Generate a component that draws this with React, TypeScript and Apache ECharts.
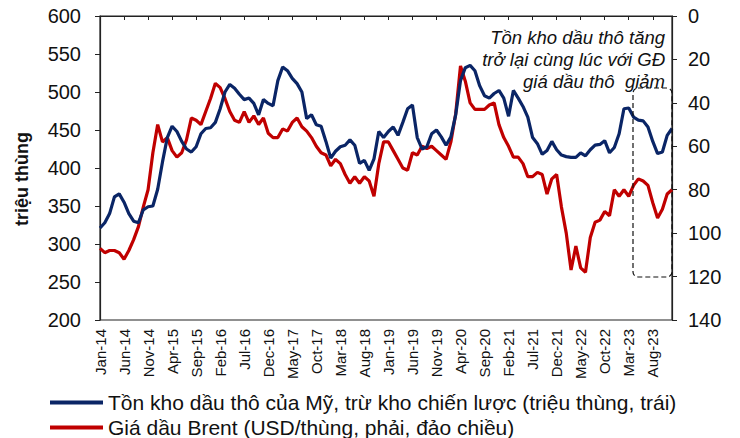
import React, { useEffect, useRef } from "react";
import * as echarts from "echarts";

const monthNames = ["Jan", "Feb", "Mar", "Apr", "May", "Jun", "Jul", "Aug", "Sep", "Oct", "Nov", "Dec"];
const years = [14, 15, 16, 17, 18, 19, 20, 21, 22, 23];
const categories: string[] = [];
years.forEach((y) => monthNames.forEach((m) => categories.push(`${m}-${y}`)));

// US crude stocks excl. SPR (million barrels, left axis)
const usStocks = [
  321, 328, 340, 362, 366, 355, 340, 330, 328, 345, 349, 350,
  372, 408, 440, 455, 448, 435, 425, 421, 428, 445, 452, 453,
  460, 478, 500, 510, 505, 497, 490, 492, 485, 470, 490, 485,
  482, 515, 533, 528, 518, 511, 500, 465, 470, 457, 455, 435,
  413, 422, 428, 430, 437, 430, 406, 410, 397, 412, 448, 440,
  448, 454, 443, 460, 478, 483, 440, 425, 428, 445, 450, 441,
  430, 441, 470, 515, 532, 535, 528, 508, 495, 492, 498, 502,
  492, 468, 502, 492, 481, 467, 440, 432, 418, 423, 435, 424,
  417, 415, 414, 414, 420, 416, 424, 430, 431, 436, 420, 427,
  445, 478, 479, 467, 463, 462, 454, 435, 419, 421, 443, 452,
];

// Brent price (USD/barrel, right axis, inverted)
const brent = [
  107, 109, 108, 108, 109, 112, 108, 103, 97, 88, 80, 63,
  50, 58, 56, 62, 65, 63, 57, 47, 48, 50, 44, 38,
  31, 33, 38, 44, 48, 49, 44, 49, 46, 50, 47, 54,
  56, 56, 52, 53, 49, 47, 51, 53, 56, 60, 63, 64,
  69, 66, 68, 73, 77, 74, 77, 74, 76, 83, 68, 58,
  58, 62, 66, 70, 71, 63, 64, 60, 61, 60, 62, 64,
  66, 58, 45, 23, 30, 40, 43, 43, 43, 41, 40, 50,
  56, 60, 65, 65, 68, 74, 74, 72, 73, 82, 75, 73,
  88, 100, 117, 106, 116, 118, 102, 95, 94, 90, 92, 80,
  83, 80, 83, 78, 75, 76, 78, 86, 93, 89, 82, 80,
];

const leftTicks = { min: 200, max: 600, interval: 50 };
const rightTicks = { min: 0, max: 140, interval: 20 };

const seriesNames = [
  "Tồn kho dầu thô của Mỹ, trừ kho chiến lược (triệu thùng, trái)",
  "Giá dầu Brent (USD/thùng, phải, đảo chiều)",
];
const yAxisTitle = "triệu thùng";
const noteText = "Tồn kho dầu thô tăng\ntrở lại cùng lúc với GĐ\ngiá dầu thô  giảm";

const NAVY = "#0a2566";
const RED = "#c00000";
const FONT = "Arial, 'Liberation Sans', sans-serif";

const legendBase = {
  orient: "horizontal",
  left: 50,
  padding: 0,
  itemWidth: 53,
  itemHeight: 4,
  icon: "rect",
  textStyle: { fontSize: 21, color: "#111", fontFamily: FONT },
};

export default function App() {
  const ref = useRef<HTMLDivElement>(null);
  useEffect(() => {
    if (!ref.current) return;
    const chart = echarts.init(ref.current, undefined, { renderer: "svg" });
    chart.setOption({
      animation: false,
      backgroundColor: "#fff",
      textStyle: { fontFamily: FONT },
      grid: { left: 100, right: 68, top: 16, bottom: 118, show: true, borderColor: "#222", borderWidth: 1.2 },
      legend: [
        { ...legendBase, top: 392, data: [seriesNames[0]] },
        { ...legendBase, top: 417, data: [seriesNames[1]] },
      ],
      xAxis: {
        type: "category",
        data: categories,
        boundaryGap: false,
        axisLine: { lineStyle: { color: "#222", width: 1.2 } },
        axisTick: { interval: 4, length: 4, lineStyle: { color: "#222" } },
        axisLabel: { interval: 4, rotate: 90, fontSize: 15, color: "#111", margin: 9, fontFamily: FONT },
        splitLine: { show: false },
      },
      yAxis: [
        {
          type: "value",
          ...leftTicks,
          position: "left",
          axisLine: { show: true, lineStyle: { color: "#222", width: 1.2 } },
          axisTick: { show: true, length: 5, lineStyle: { color: "#222" } },
          axisLabel: { fontSize: 20, color: "#111", margin: 19, fontFamily: FONT },
          splitLine: { show: false },
        },
        {
          type: "value",
          ...rightTicks,
          inverse: true,
          position: "right",
          axisLine: { show: true, lineStyle: { color: "#222", width: 1.2 } },
          axisTick: { show: true, length: 5, lineStyle: { color: "#222" } },
          axisLabel: { fontSize: 20, color: "#111", margin: 16, fontFamily: FONT },
          splitLine: { show: false },
        },
      ],
      series: [
        {
          name: seriesNames[0],
          type: "line",
          data: usStocks,
          yAxisIndex: 0,
          showSymbol: false,
          lineStyle: { color: NAVY, width: 3.2 },
          itemStyle: { color: NAVY },
          z: 3,
        },
        {
          name: seriesNames[1],
          type: "line",
          data: brent,
          yAxisIndex: 1,
          showSymbol: false,
          lineStyle: { color: RED, width: 3.2 },
          itemStyle: { color: RED },
          z: 2,
        },
      ],
      graphic: [
        {
          type: "text",
          x: 22,
          y: 179,
          rotation: Math.PI / 2,
          style: {
            text: yAxisTitle,
            font: `bold 18px ${FONT}`,
            fill: "#111",
            align: "center",
            verticalAlign: "middle",
          },
        },
        {
          type: "rect",
          shape: { x: 633, y: 88, width: 39, height: 189, r: 5 },
          style: { fill: "none", stroke: "#111", lineWidth: 1.2, lineDash: [5, 3] },
          z: 10,
        },
        {
          type: "text",
          x: 665,
          y: 27,
          style: {
            text: noteText,
            font: `italic 18.5px ${FONT}`,
            fill: "#111",
            align: "right",
            verticalAlign: "top",
            lineHeight: 21.7,
          },
          z: 10,
        },
      ],
    });
    return () => chart.dispose();
  }, []);
  return <div ref={ref} style={{ width: 740, height: 438, position: "absolute", left: 0, top: 0 }} />;
}
